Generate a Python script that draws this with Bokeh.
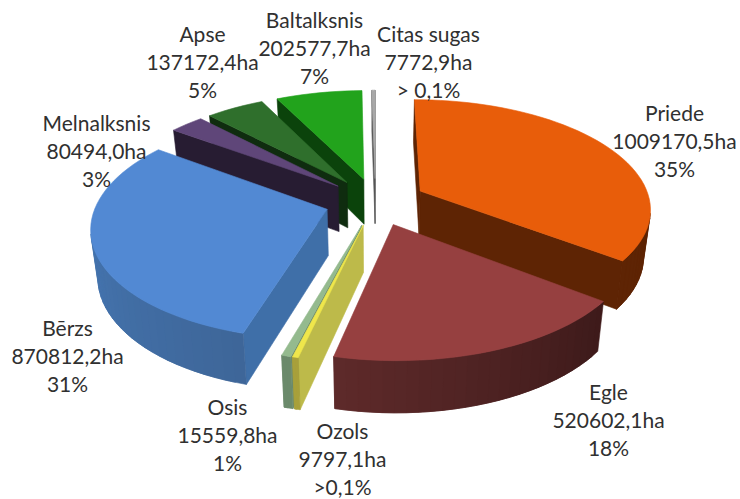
import math
from bokeh.plotting import figure
from bokeh.models import ColumnDataSource
from bokeh.core.properties import value
from bokeh.embed import file_html
from bokeh.resources import INLINE

# ---- data ----
species = ["Priede", "Egle", "Ozols", "Osis", "Bērzs", "Melnalksnis", "Apse", "Baltalksnis", "Citas sugas"]
areas = [1009170.5, 520602.1, 9797.1, 15559.8, 870812.2, 80494.0, 137172.4, 202577.7, 7772.9]
shares = ["35%", "18%", ">0,1%", "1%", "31%", "3%", "5%", "7%", "> 0,1%"]

# ---- styles ----
top_col = ["#E85D0A", "#964040", "#EFE64B", "#94BA8E", "#5289D3", "#5F4679", "#2F6F2C", "#22A31C", "#A8A8A8"]
wall_col = ["#5E2404", "#4F2121", "#BDBA4A", "#6B8A6B", "#3F6FA8", "#271C32", "#0F2C0F", "#0B430B", "#555555"]
rim_start = ["#5E2404", "#3D1A1A", "#A8A03A", "#6B8A6B", "#3E6699", "#271C32", "#0F2C0F", "#0B430B", "#666666"]
rim_end = ["#5E2404", "#5E2A2A", "#A8A03A", "#6B8A6B", "#4A80C0", "#271C32", "#0F2C0F", "#0B430B", "#666666"]
paint_order = [8, 7, 6, 5, 0, 4, 3, 2, 1]
label_xy = [(674, 112), (608, 391), (342, 430), (227, 406), (67, 327), (96, 122), (202, 33), (314, 19), (428, 33)]

CX, CY, RX, RY, Q, EXPL, DEPTH, SHRINK = 375, 201, 230, 108, 0.15, 0.22, 46, 0.975
LINE_STEP = 28.2


def project(wx, wy, bottom=False):
    s = 1 / (1 + Q * wy)
    k = SHRINK if bottom else 1.0
    return CX + RX * wx * s * k, CY - RY * wy * s * k + (DEPTH * s if bottom else 0)


def hex2rgb(c):
    return tuple(int(c[i:i + 2], 16) for i in (1, 3, 5))


def mix(a, b, t):
    ra, rb = hex2rgb(a), hex2rgb(b)
    return "#%02x%02x%02x" % tuple(round(x + (y - x) * t) for x, y in zip(ra, rb))


def area(pts):
    return sum(pts[i][0] * pts[(i + 1) % len(pts)][1] - pts[(i + 1) % len(pts)][0] * pts[i][1]
               for i in range(len(pts)))


total = sum(areas)
starts, a0 = [], 0.0
for v in areas:
    starts.append(a0)
    a0 += v / total * 2 * math.pi

xs, ys, cols = [], [], []


def add(pts, col):
    xs.append([q[0] for q in pts])
    ys.append([q[1] for q in pts])
    cols.append(col)


for i in paint_order:
    t0 = starts[i]
    t1 = t0 + areas[i] / total * 2 * math.pi
    mid = (t0 + t1) / 2
    ox, oy = EXPL * math.sin(mid), EXPL * math.cos(mid)
    n = max(2, int((t1 - t0) / math.radians(2.5)))
    th = [t0 + (t1 - t0) * j / n for j in range(n + 1)]
    rim = [(ox + math.sin(t), oy + math.cos(t)) for t in th]
    T = [project(*r) for r in rim]
    B = [project(*r, bottom=True) for r in rim]
    aT, aB = project(ox, oy), project(ox, oy, bottom=True)
    # radial side walls
    f = [aT, T[0], B[0], aB]
    if area(f) < 0:
        add(f, wall_col[i])
    f = [T[-1], aT, aB, B[-1]]
    if area(f) < 0:
        add(f, wall_col[i])
    # outer wall, one shaded strip per step; each strip reaches under the next one
    for j in range(n):
        e = min(j + 2, n)
        f = [T[j], T[j + 1], T[e], B[e], B[j + 1], B[j]]
        if area(f) < 0:
            add(f, mix(rim_start[i], rim_end[i], (j + 0.5) / n))
    # top face
    add([aT] + T, top_col[i])

p = figure(width=740, height=499, x_range=(0, 740), y_range=(499, 0),
           output_backend="svg", toolbar_location=None, min_border=0,
           background_fill_color="white", border_fill_color="white")
p.axis.visible = False
p.grid.visible = False
p.outline_line_color = None
p.patches(xs="xs", ys="ys", fill_color="c", line_color="c", line_width=0.6, line_join="miter",
          source=ColumnDataSource(dict(xs=xs, ys=ys, c=cols)))

tx, ty, tt = [], [], []
for name, v, sh, (lx, ly) in zip(species, areas, shares, label_xy):
    for k, line in enumerate([name, f"{v:.1f}".replace(".", ",") + "ha", sh]):
        tx.append(lx)
        ty.append(ly + k * LINE_STEP)
        tt.append(line)
p.text(x="x", y="y", text="t", source=ColumnDataSource(dict(x=tx, y=ty, t=tt)),
       text_font=value("Lato"), text_font_size="21px", text_color="#303030",
       text_align="center", text_baseline="middle")

open("out.html", "w").write(file_html(p, INLINE))
